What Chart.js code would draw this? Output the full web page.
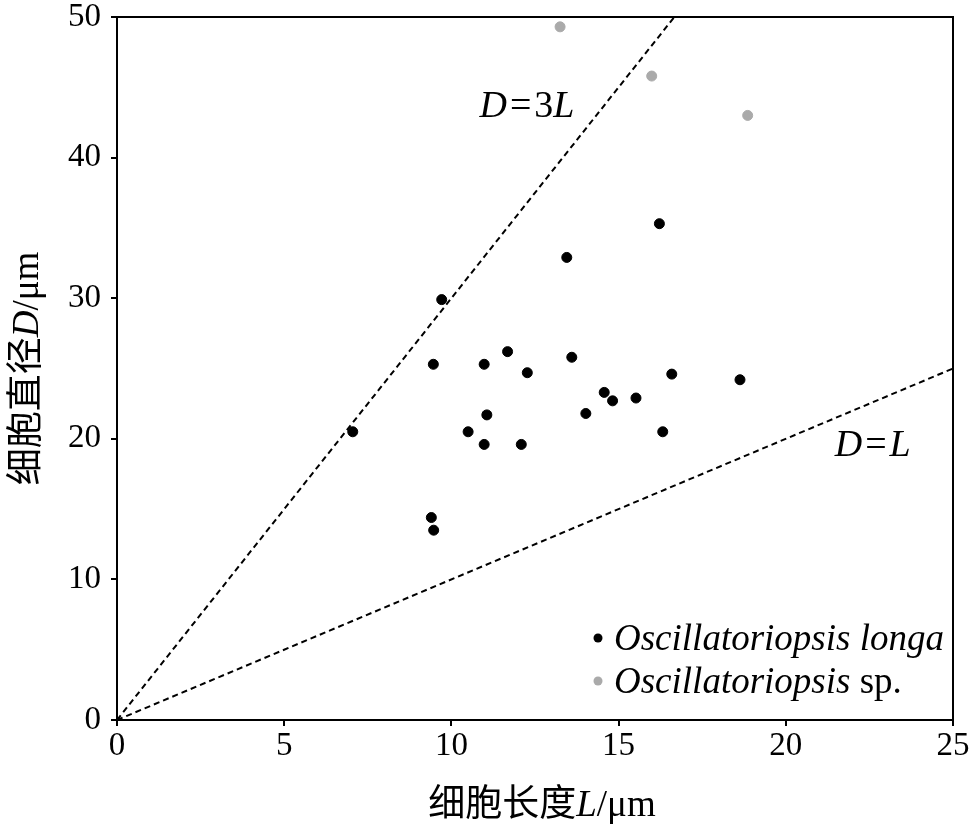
<!DOCTYPE html>
<html>
<head>
<meta charset="utf-8">
<script src="https://cdn.jsdelivr.net/npm/chart.js@4/dist/chart.umd.min.js"></script>
<style>
  html, body { margin: 0; padding: 0; background: #fff; }
  #wrap { width: 975px; height: 831px; }
</style>
</head>
<body>
<div id="wrap"><canvas id="cellChart" width="975" height="831"></canvas></div>
<script>
// Oscillatoriopsis longa: cell length L and diameter D (µm)
const longaL = [16.22, 13.45, 9.71, 11.68, 9.46, 10.98, 13.60, 12.27, 16.59, 18.63, 14.57,
                14.82, 15.52, 11.06, 14.02, 7.05, 10.50, 16.32, 10.98, 12.09, 9.40, 9.47];
const longaD = [35.3, 32.9, 29.9, 26.2, 25.3, 25.3, 25.8, 24.7, 24.6, 24.2, 23.3,
                22.7, 22.9, 21.7, 21.8, 20.5, 20.5, 20.5, 19.6, 19.6, 14.4, 13.5];
// Oscillatoriopsis sp.
const spL = [13.25, 15.99, 18.86];
const spD = [49.3, 45.8, 43.0];
// reference lines D = 3L and D = L
const line3L_L = [0, 50 / 3];
const line3L_D = [0, 50];
const line1L_L = [0, 25];
const line1L_D = [0, 25];
// axes
const xTicks = [0, 5, 10, 15, 20, 25];
const yTicks = [0, 10, 20, 30, 40, 50];

const SERIF = '"Liberation Serif", "Times New Roman", serif';
const CJK = '"Liberation Serif", "Noto Sans CJK SC", serif';

const toPoints = (xs, ys) => xs.map((x, i) => ({ x: x, y: ys[i] }));

// draw a run of text pieces, some italic
function drawRich(ctx, parts, x, y, align, size) {
    let total = 0;
    parts.forEach(p => {
        ctx.font = (p.i ? 'italic ' : '') + size + 'px ' + (p.cjk ? CJK : SERIF);
        p.w = ctx.measureText(p.t).width + (p.gap || 0) * 2;
    });
    parts.forEach(p => total += p.w);
    let cx = align === 'center' ? x - total / 2 : x;
    ctx.textBaseline = 'middle';
    ctx.textAlign = 'left';
    parts.forEach(p => {
        ctx.font = (p.i ? 'italic ' : '') + size + 'px ' + (p.cjk ? CJK : SERIF);
        ctx.fillText(p.t, cx + (p.gap || 0), y);
        cx += p.w;
    });
}

const decorPlugin = {
    id: 'decor',
    afterDraw(chart) {
        const ctx = chart.ctx;
        const a = chart.chartArea;
        const xs = chart.scales.x, ys = chart.scales.y;
        ctx.save();
        ctx.fillStyle = '#000';

        // box around plot
        ctx.strokeStyle = '#000';
        ctx.lineWidth = 2;
        ctx.strokeRect(a.left, a.top, a.right - a.left, a.bottom - a.top);

        // line labels
        drawRich(ctx, [{ t: 'D', i: true }, { t: '=', gap: 3 }, { t: '3' }, { t: 'L', i: true }],
            xs.getPixelForValue(12.26), ys.getPixelForValue(43.6), 'center', 38);
        drawRich(ctx, [{ t: 'D', i: true }, { t: '=', gap: 3 }, { t: 'L', i: true }],
            xs.getPixelForValue(22.6), ys.getPixelForValue(19.5), 'center', 38);

        // axis titles
        drawRich(ctx, [{ t: '细胞长度', cjk: true }, { t: 'L', i: true }, { t: '/μm' }],
            (a.left + a.right) / 2 + 7, a.bottom + 86, 'center', 37);
        ctx.save();
        ctx.translate(a.left - 89, (a.top + a.bottom) / 2);
        ctx.rotate(-Math.PI / 2);
        drawRich(ctx, [{ t: '细胞直径', cjk: true }, { t: 'D', i: true }, { t: '/μm' }],
            0, 0, 'center', 37);
        ctx.restore();

        // legend
        const lx = a.right - 355;
        const rows = [
            { color: '#000', parts: [{ t: 'Oscillatoriopsis longa', i: true }], y: a.bottom - 82 },
            { color: '#aaaaaa', parts: [{ t: 'Oscillatoriopsis', i: true }, { t: ' sp.' }], y: a.bottom - 39 }
        ];
        rows.forEach(r => {
            ctx.fillStyle = r.color;
            ctx.beginPath();
            ctx.arc(lx, r.y, 4.5, 0, Math.PI * 2);
            ctx.fill();
            ctx.fillStyle = '#000';
            drawRich(ctx, r.parts, lx + 16, r.y + 2, 'left', 37);
        });
        ctx.restore();
    }
};

const ctx = document.getElementById('cellChart').getContext('2d');
new Chart(ctx, {
    type: 'scatter',
    data: {
        datasets: [
            {
                label: 'Oscillatoriopsis longa',
                data: toPoints(longaL, longaD),
                backgroundColor: '#000',
                borderColor: '#000',
                pointRadius: 5,
                order: 1
            },
            {
                label: 'Oscillatoriopsis sp.',
                data: toPoints(spL, spD),
                backgroundColor: '#aaaaaa',
                borderColor: '#aaaaaa',
                pointRadius: 5,
                order: 1
            },
            {
                label: 'D=3L',
                type: 'line',
                data: toPoints(line3L_L, line3L_D),
                borderColor: '#000',
                borderWidth: 2,
                borderDash: [6, 4],
                pointRadius: 0,
                order: 2
            },
            {
                label: 'D=L',
                type: 'line',
                data: toPoints(line1L_L, line1L_D),
                borderColor: '#000',
                borderWidth: 2,
                borderDash: [6, 4],
                pointRadius: 0,
                order: 2
            }
        ]
    },
    options: {
        responsive: false,
        animation: false,
        layout: { padding: { top: 17, right: 22, left: 0, bottom: 0 } },
        plugins: {
            legend: { display: false },
            tooltip: { enabled: false }
        },
        scales: {
            x: {
                type: 'linear',
                min: 0,
                max: 25,
                afterFit: s => { s.height = 111; s.paddingLeft = 0; s.paddingRight = 0; },
                afterBuildTicks: s => { s.ticks = xTicks.map(v => ({ value: v })); },
                grid: { drawOnChartArea: false, drawTicks: true, tickLength: 6, color: '#000', lineWidth: 2 },
                border: { display: true, color: '#000', width: 2 },
                ticks: {
                    color: '#000',
                    padding: 4,
                    font: { family: SERIF, size: 33, lineHeight: 1 }
                }
            },
            y: {
                type: 'linear',
                min: 0,
                max: 50,
                afterFit: s => { s.width = 117; s.paddingTop = 0; s.paddingBottom = 0; },
                afterBuildTicks: s => { s.ticks = yTicks.map(v => ({ value: v })); },
                grid: { drawOnChartArea: false, drawTicks: true, tickLength: 6, color: '#000', lineWidth: 2 },
                border: { display: true, color: '#000', width: 2 },
                ticks: {
                    color: '#000',
                    padding: 10,
                    font: { family: SERIF, size: 33, lineHeight: 1 }
                }
            }
        }
    },
    plugins: [decorPlugin]
});
</script>
</body>
</html>
